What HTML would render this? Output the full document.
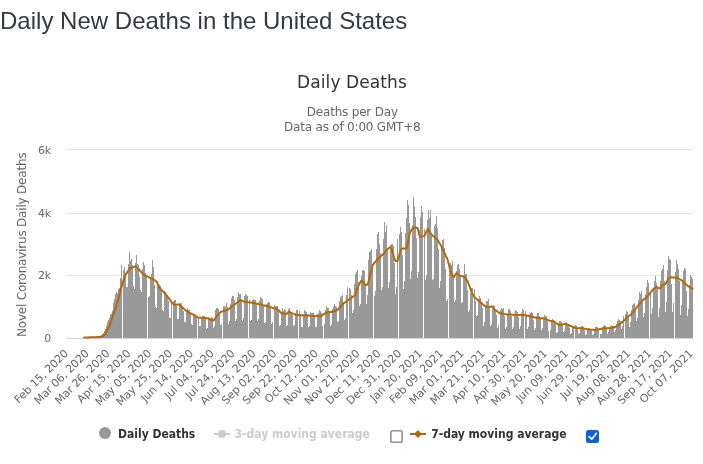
<!DOCTYPE html>
<html lang="en">
<head>
<meta charset="utf-8">
<title>Daily New Deaths in the United States</title>
<style>
html,body{margin:0;padding:0;background:#fff;}
body{width:703px;height:464px;overflow:hidden;position:relative;font-family:"Liberation Sans",Arial,sans-serif;}
h3{position:absolute;left:0;top:6px;margin:0;font-family:"Liberation Sans",Arial,sans-serif;font-weight:normal;font-size:24px;line-height:30px;color:#363945;white-space:nowrap;letter-spacing:0.01px;}
#chart{position:absolute;left:0;top:0;width:703px;height:464px;}
svg text{font-family:"DejaVu Sans","Liberation Sans",sans-serif;}
.cb{position:absolute;width:13px;height:13px;margin:0;padding:0;box-sizing:border-box;-webkit-appearance:none;appearance:none;border-radius:2.5px;}
#cb3{left:390px;top:430px;border:0;background:transparent;opacity:0;}
#cb7{left:586px;top:430px;border:0;background:#0c61e1;}
#ck{position:absolute;left:586px;top:430px;width:13px;height:13px;pointer-events:none;}
</style>
</head>
<body>
<h3>Daily New Deaths in the United States</h3>
<div id="chart">
<svg width="703" height="464" viewBox="0 0 703 464">
<rect x="0" y="50" width="703" height="414" fill="#ffffff"/>
<g stroke="#e6e6e6" stroke-width="1" shape-rendering="crispEdges">
<path d="M66 149.5H693M66 213.5H693M66 275.5H693"/>
</g>
<path fill="#999999" shape-rendering="crispEdges" d="M81 338V337.5h1V338zM82 338V337.5h1V338zM83 338V337.4h1V338zM84 338V337.3h1V338zM85 338V337.3h1V338zM86 338V337.3h1V338zM87 338V337.2h1V338zM88 338V337.4h1V338zM89 338V337.4h1V338zM90 338V337.4h1V338zM91 338V337.3h1V338zM92 338V337.2h1V338zM93 338V337.2h1V338zM94 338V337.0h1V338zM95 338V337.2h1V338zM96 338V337.1h1V338zM98 338V336.9h1V338zM99 338V336.5h1V338zM100 338V336.1h1V338zM101 338V335.4h1V338zM102 338V334.3h1V338zM103 338V332.7h1V338zM104 338V331.1h1V338zM105 338V328.9h1V338zM106 338V326.0h1V338zM107 338V322.4h1V338zM108 338V319.9h1V338zM109 338V317.5h1V338zM110 338V314.4h1V338zM111 338V313.5h1V338zM112 338V310.7h1V338zM113 338V303.2h1V338zM114 338V299.1h1V338zM115 338V294.4h1V338zM116 338V291.8h1V338zM117 338V293.1h1V338zM118 338V289.1h1V338zM119 338V288.2h1V338zM120 338V277.9h1V338zM121 338V264.8h1V338zM123 338V270.2h1V338zM124 338V266.9h1V338zM125 338V274.2h1V338zM126 338V286.9h1V338zM127 338V286.6h1V338zM128 338V264.2h1V338zM129 338V252.4h1V338zM130 338V261.1h1V338zM131 338V258.6h1V338zM132 338V265.0h1V338zM133 338V285.8h1V338zM134 338V288.6h1V338zM135 338V263.2h1V338zM136 338V254.9h1V338zM137 338V264.1h1V338zM138 338V265.1h1V338zM139 338V276.5h1V338zM140 338V290.4h1V338zM141 338V292.4h1V338zM142 338V269.1h1V338zM143 338V261.5h1V338zM144 338V264.5h1V338zM145 338V272.7h1V338zM146 338V275.8h1V338zM148 338V296.8h1V338zM149 338V295.9h1V338zM150 338V279.2h1V338zM151 338V273.7h1V338zM152 338V259.9h1V338zM153 338V266.5h1V338zM154 338V284.6h1V338zM155 338V306.7h1V338zM156 338V307.6h1V338zM157 338V280.6h1V338zM158 338V285.2h1V338zM159 338V284.8h1V338zM160 338V286.3h1V338zM161 338V291.1h1V338zM162 338V310.1h1V338zM163 338V310.8h1V338zM164 338V293.3h1V338zM165 338V292.4h1V338zM166 338V295.2h1V338zM167 338V294.9h1V338zM168 338V300.9h1V338zM169 338V317.9h1V338zM170 338V318.3h1V338zM171 338V302.6h1V338zM173 338V301.3h1V338zM174 338V300.3h1V338zM175 338V300.1h1V338zM176 338V305.8h1V338zM177 338V319.4h1V338zM178 338V318.9h1V338zM179 338V304.3h1V338zM180 338V303.3h1V338zM181 338V303.4h1V338zM182 338V306.1h1V338zM183 338V311.0h1V338zM184 338V321.6h1V338zM185 338V321.9h1V338zM186 338V311.4h1V338zM187 338V308.2h1V338zM188 338V309.8h1V338zM189 338V310.4h1V338zM190 338V314.0h1V338zM191 338V324.4h1V338zM192 338V324.9h1V338zM193 338V315.6h1V338zM194 338V314.1h1V338zM195 338V316.4h1V338zM196 338V316.8h1V338zM198 338V318.7h1V338zM199 338V326.3h1V338zM200 338V326.1h1V338zM201 338V317.0h1V338zM202 338V315.7h1V338zM203 338V315.8h1V338zM204 338V316.4h1V338zM205 338V318.1h1V338zM206 338V329.4h1V338zM207 338V327.8h1V338zM208 338V317.4h1V338zM209 338V317.8h1V338zM210 338V318.4h1V338zM211 338V317.0h1V338zM212 338V317.5h1V338zM213 338V328.1h1V338zM214 338V325.5h1V338zM215 338V309.6h1V338zM216 338V308.4h1V338zM217 338V307.6h1V338zM218 338V309.1h1V338zM219 338V311.6h1V338zM220 338V325.1h1V338zM221 338V324.0h1V338zM223 338V305.8h1V338zM224 338V306.1h1V338zM225 338V306.8h1V338zM226 338V302.6h1V338zM227 338V306.7h1V338zM228 338V323.7h1V338zM229 338V321.2h1V338zM230 338V303.7h1V338zM231 338V298.3h1V338zM232 338V295.9h1V338zM233 338V296.2h1V338zM234 338V300.1h1V338zM235 338V320.8h1V338zM236 338V318.7h1V338zM237 338V297.3h1V338zM238 338V291.6h1V338zM239 338V294.2h1V338zM240 338V294.3h1V338zM241 338V301.1h1V338zM242 338V321.0h1V338zM243 338V318.3h1V338zM244 338V295.5h1V338zM245 338V293.7h1V338zM246 338V294.8h1V338zM247 338V295.7h1V338zM249 338V300.2h1V338zM250 338V321.4h1V338zM251 338V319.5h1V338zM252 338V299.7h1V338zM253 338V299.2h1V338zM254 338V300.2h1V338zM255 338V299.9h1V338zM256 338V303.9h1V338zM257 338V321.2h1V338zM258 338V319.4h1V338zM259 338V301.2h1V338zM260 338V296.9h1V338zM261 338V297.6h1V338zM262 338V298.8h1V338zM263 338V305.3h1V338zM264 338V323.1h1V338zM265 338V322.0h1V338zM266 338V304.3h1V338zM267 338V302.6h1V338zM268 338V301.7h1V338zM269 338V301.5h1V338zM270 338V305.6h1V338zM271 338V323.7h1V338zM272 338V322.3h1V338zM274 338V304.5h1V338zM275 338V306.1h1V338zM276 338V305.5h1V338zM277 338V306.4h1V338zM278 338V311.0h1V338zM279 338V325.7h1V338zM280 338V325.3h1V338zM281 338V312.0h1V338zM282 338V308.4h1V338zM283 338V310.6h1V338zM284 338V308.5h1V338zM285 338V309.5h1V338zM286 338V325.6h1V338zM287 338V324.8h1V338zM288 338V308.5h1V338zM289 338V308.0h1V338zM290 338V310.9h1V338zM291 338V312.1h1V338zM292 338V314.9h1V338zM293 338V326.2h1V338zM294 338V325.4h1V338zM295 338V313.4h1V338zM296 338V309.6h1V338zM297 338V309.7h1V338zM299 338V311.3h1V338zM300 338V314.9h1V338zM301 338V327.0h1V338zM302 338V326.7h1V338zM303 338V314.3h1V338zM304 338V309.7h1V338zM305 338V311.2h1V338zM306 338V312.1h1V338zM307 338V313.5h1V338zM308 338V327.3h1V338zM309 338V325.8h1V338zM310 338V312.1h1V338zM311 338V312.6h1V338zM312 338V313.0h1V338zM313 338V313.4h1V338zM314 338V316.0h1V338zM315 338V327.4h1V338zM316 338V327.0h1V338zM317 338V313.9h1V338zM318 338V312.5h1V338zM319 338V309.6h1V338zM320 338V311.1h1V338zM321 338V312.6h1V338zM322 338V325.6h1V338zM324 338V324.0h1V338zM325 338V309.6h1V338zM326 338V305.8h1V338zM327 338V307.7h1V338zM328 338V307.9h1V338zM329 338V310.7h1V338zM330 338V326.0h1V338zM331 338V324.0h1V338zM332 338V308.7h1V338zM333 338V307.1h1V338zM334 338V303.9h1V338zM335 338V306.1h1V338zM336 338V306.8h1V338zM337 338V322.3h1V338zM338 338V320.6h1V338zM339 338V301.1h1V338zM340 338V296.9h1V338zM341 338V296.4h1V338zM342 338V295.0h1V338zM343 338V301.5h1V338zM344 338V319.5h1V338zM345 338V318.3h1V338zM346 338V295.4h1V338zM347 338V286.9h1V338zM349 338V288.1h1V338zM350 338V288.5h1V338zM351 338V295.1h1V338zM352 338V312.8h1V338zM353 338V309.8h1V338zM354 338V284.3h1V338zM355 338V274.2h1V338zM356 338V271.7h1V338zM357 338V270.4h1V338zM358 338V281.7h1V338zM359 338V305.8h1V338zM360 338V303.6h1V338zM361 338V276.1h1V338zM362 338V270.4h1V338zM363 338V269.6h1V338zM364 338V271.3h1V338zM365 338V283.7h1V338zM366 338V303.6h1V338zM367 338V295.2h1V338zM368 338V259.5h1V338zM369 338V251.9h1V338zM370 338V250.8h1V338zM371 338V248.7h1V338zM372 338V265.9h1V338zM374 338V295.5h1V338zM375 338V291.3h1V338zM376 338V248.8h1V338zM377 338V234.1h1V338zM378 338V232.4h1V338zM379 338V243.7h1V338zM380 338V253.0h1V338zM381 338V289.5h1V338zM382 338V286.9h1V338zM383 338V238.5h1V338zM384 338V222.0h1V338zM385 338V231.7h1V338zM386 338V224.8h1V338zM387 338V249.1h1V338zM388 338V288.2h1V338zM389 338V281.8h1V338zM390 338V245.0h1V338zM391 338V244.1h1V338zM392 338V244.4h1V338zM393 338V246.2h1V338zM394 338V263.0h1V338zM395 338V294.3h1V338zM396 338V286.5h1V338zM397 338V239.1h1V338zM399 338V234.1h1V338zM400 338V226.9h1V338zM401 338V232.2h1V338zM402 338V254.6h1V338zM403 338V288.9h1V338zM404 338V280.7h1V338zM405 338V232.6h1V338zM406 338V217.9h1V338zM407 338V200.0h1V338zM408 338V205.3h1V338zM409 338V223.3h1V338zM410 338V279.0h1V338zM411 338V271.4h1V338zM412 338V224.7h1V338zM413 338V196.9h1V338zM414 338V206.4h1V338zM415 338V217.3h1V338zM416 338V238.3h1V338zM417 338V278.1h1V338zM418 338V272.4h1V338zM419 338V230.3h1V338zM420 338V217.0h1V338zM421 338V205.7h1V338zM422 338V212.2h1V338zM424 338V229.2h1V338zM425 338V279.9h1V338zM426 338V274.9h1V338zM427 338V220.2h1V338zM428 338V210.1h1V338zM429 338V218.2h1V338zM430 338V210.3h1V338zM431 338V236.3h1V338zM432 338V279.6h1V338zM433 338V279.4h1V338zM434 338V226.1h1V338zM435 338V224.3h1V338zM436 338V216.0h1V338zM437 338V227.8h1V338zM438 338V249.3h1V338zM439 338V287.5h1V338zM440 338V281.1h1V338zM441 338V248.3h1V338zM442 338V240.4h1V338zM443 338V239.0h1V338zM444 338V248.4h1V338zM445 338V268.6h1V338zM446 338V300.6h1V338zM447 338V299.4h1V338zM449 338V271.0h1V338zM450 338V263.3h1V338zM451 338V264.8h1V338zM452 338V261.1h1V338zM453 338V275.9h1V338zM454 338V301.6h1V338zM455 338V299.8h1V338zM456 338V270.5h1V338zM457 338V265.4h1V338zM458 338V264.2h1V338zM459 338V268.9h1V338zM460 338V275.3h1V338zM461 338V303.3h1V338zM462 338V302.2h1V338zM463 338V274.6h1V338zM464 338V264.0h1V338zM465 338V274.4h1V338zM466 338V274.3h1V338zM467 338V290.2h1V338zM468 338V312.4h1V338zM469 338V309.7h1V338zM470 338V292.7h1V338zM471 338V287.9h1V338zM472 338V288.3h1V338zM474 338V289.2h1V338zM475 338V301.2h1V338zM476 338V316.4h1V338zM477 338V315.0h1V338zM478 338V298.9h1V338zM479 338V295.9h1V338zM480 338V297.7h1V338zM481 338V301.5h1V338zM482 338V308.0h1V338zM483 338V325.9h1V338zM484 338V321.7h1V338zM485 338V305.3h1V338zM486 338V301.1h1V338zM487 338V301.1h1V338zM488 338V298.7h1V338zM489 338V306.9h1V338zM490 338V325.7h1V338zM491 338V323.9h1V338zM492 338V308.7h1V338zM493 338V305.4h1V338zM494 338V305.6h1V338zM495 338V308.9h1V338zM496 338V314.5h1V338zM497 338V328.4h1V338zM498 338V325.0h1V338zM500 338V310.1h1V338zM501 338V308.0h1V338zM502 338V309.3h1V338zM503 338V308.1h1V338zM504 338V315.9h1V338zM505 338V328.7h1V338zM506 338V326.9h1V338zM507 338V312.8h1V338zM508 338V309.1h1V338zM509 338V309.0h1V338zM510 338V311.3h1V338zM511 338V315.7h1V338zM512 338V329.3h1V338zM513 338V326.7h1V338zM514 338V314.2h1V338zM515 338V309.8h1V338zM516 338V311.1h1V338zM517 338V312.3h1V338zM518 338V316.6h1V338zM519 338V329.1h1V338zM520 338V326.4h1V338zM521 338V313.1h1V338zM522 338V309.0h1V338zM523 338V309.6h1V338zM525 338V310.8h1V338zM526 338V316.0h1V338zM527 338V329.4h1V338zM528 338V327.4h1V338zM529 338V313.5h1V338zM530 338V313.1h1V338zM531 338V311.5h1V338zM532 338V313.2h1V338zM533 338V319.7h1V338zM534 338V329.6h1V338zM535 338V327.5h1V338zM536 338V316.0h1V338zM537 338V312.7h1V338zM538 338V312.5h1V338zM539 338V315.5h1V338zM540 338V319.0h1V338zM541 338V330.3h1V338zM542 338V328.1h1V338zM543 338V317.1h1V338zM544 338V314.6h1V338zM545 338V315.8h1V338zM546 338V316.4h1V338zM547 338V321.2h1V338zM548 338V331.1h1V338zM550 338V329.9h1V338zM551 338V321.1h1V338zM552 338V319.3h1V338zM553 338V319.6h1V338zM554 338V321.7h1V338zM555 338V324.4h1V338zM556 338V332.9h1V338zM557 338V331.5h1V338zM558 338V323.4h1V338zM559 338V320.9h1V338zM560 338V320.9h1V338zM561 338V322.3h1V338zM562 338V323.8h1V338zM563 338V332.3h1V338zM564 338V331.3h1V338zM565 338V323.8h1V338zM566 338V322.1h1V338zM567 338V323.7h1V338zM568 338V323.7h1V338zM569 338V327.6h1V338zM570 338V334.1h1V338zM571 338V333.1h1V338zM572 338V326.9h1V338zM573 338V326.3h1V338zM575 338V325.4h1V338zM576 338V325.6h1V338zM577 338V328.6h1V338zM578 338V334.2h1V338zM579 338V333.2h1V338zM580 338V327.2h1V338zM581 338V325.9h1V338zM582 338V326.4h1V338zM583 338V327.1h1V338zM584 338V330.1h1V338zM585 338V334.9h1V338zM586 338V334.1h1V338zM587 338V328.7h1V338zM588 338V328.0h1V338zM589 338V327.6h1V338zM590 338V328.8h1V338zM591 338V330.6h1V338zM592 338V335.0h1V338zM593 338V333.9h1V338zM594 338V328.5h1V338zM595 338V326.9h1V338zM596 338V327.2h1V338zM597 338V327.1h1V338zM598 338V329.1h1V338zM600 338V334.4h1V338zM601 338V333.5h1V338zM602 338V326.9h1V338zM603 338V326.3h1V338zM604 338V325.1h1V338zM605 338V325.7h1V338zM606 338V329.3h1V338zM607 338V334.3h1V338zM608 338V331.9h1V338zM609 338V326.9h1V338zM610 338V325.7h1V338zM611 338V325.4h1V338zM612 338V325.6h1V338zM613 338V326.1h1V338zM614 338V332.3h1V338zM615 338V330.1h1V338zM616 338V324.4h1V338zM617 338V320.9h1V338zM618 338V318.8h1V338zM619 338V320.2h1V338zM620 338V320.8h1V338zM621 338V329.2h1V338zM622 338V325.7h1V338zM623 338V316.4h1V338zM625 338V314.0h1V338zM626 338V310.5h1V338zM627 338V311.8h1V338zM628 338V316.6h1V338zM629 338V326.7h1V338zM630 338V322.1h1V338zM631 338V309.9h1V338zM632 338V305.2h1V338zM633 338V303.9h1V338zM634 338V302.8h1V338zM635 338V307.5h1V338zM636 338V320.8h1V338zM637 338V318.0h1V338zM638 338V299.5h1V338zM639 338V292.2h1V338zM640 338V294.4h1V338zM641 338V290.7h1V338zM642 338V298.8h1V338zM643 338V317.2h1V338zM644 338V313.1h1V338zM645 338V294.2h1V338zM646 338V286.5h1V338zM647 338V280.0h1V338zM648 338V283.1h1V338zM650 338V292.3h1V338zM651 338V314.1h1V338zM652 338V308.4h1V338zM653 338V288.6h1V338zM654 338V281.4h1V338zM655 338V275.8h1V338zM656 338V282.6h1V338zM657 338V287.5h1V338zM658 338V317.1h1V338zM659 338V307.8h1V338zM660 338V280.8h1V338zM661 338V271.4h1V338zM662 338V269.0h1V338zM663 338V265.2h1V338zM664 338V281.2h1V338zM665 338V311.9h1V338zM666 338V301.9h1V338zM667 338V270.1h1V338zM668 338V255.5h1V338zM669 338V258.8h1V338zM670 338V259.8h1V338zM671 338V284.4h1V338zM672 338V311.9h1V338zM673 338V302.7h1V338zM675 338V272.0h1V338zM676 338V260.3h1V338zM677 338V263.8h1V338zM678 338V269.0h1V338zM679 338V281.3h1V338zM680 338V315.3h1V338zM681 338V305.4h1V338zM682 338V280.8h1V338zM683 338V270.8h1V338zM684 338V267.9h1V338zM685 338V269.1h1V338zM686 338V291.4h1V338zM687 338V316.4h1V338zM688 338V309.3h1V338zM689 338V285.0h1V338zM690 338V275.4h1V338zM691 338V276.6h1V338zM692 338V278.6h1V338z"/>
<path d="M66 338.5H693" stroke="#ccd6eb" stroke-width="1" shape-rendering="crispEdges"/>
<path fill="none" stroke="#b46a05" stroke-width="2" stroke-linejoin="round" stroke-linecap="round" d="M84.2 337.4L85.3 337.4L86.3 337.4L87.4 337.4L88.4 337.4L89.4 337.3L90.5 337.3L91.5 337.3L92.6 337.3L93.6 337.3L94.6 337.3L95.7 337.3L96.7 337.2L97.8 337.1L98.8 337.1L99.8 337.0L100.9 336.8L101.9 336.6L103.0 336.2L104.0 335.3L105.1 334.1L106.1 332.3L107.1 330.3L108.2 328.2L109.2 326.2L110.3 323.6L111.3 320.5L112.3 317.4L113.4 314.2L114.4 311.1L115.5 308.0L116.5 304.9L117.6 301.7L118.6 298.0L119.6 294.0L120.7 290.0L121.7 286.1L122.8 282.4L123.8 279.6L124.8 276.8L125.9 274.2L126.9 272.6L128.0 271.1L129.0 269.5L130.1 268.0L131.1 267.7L132.1 267.4L133.2 267.1L134.2 266.8L135.3 266.5L136.3 267.2L137.3 268.1L138.4 268.9L139.4 270.0L140.5 271.2L141.5 272.4L142.6 273.6L143.6 274.4L144.6 275.0L145.7 275.5L146.7 276.1L147.8 276.7L148.8 277.2L149.8 277.6L150.9 278.1L151.9 278.5L153.0 279.1L154.0 279.8L155.1 280.6L156.1 281.4L157.1 282.6L158.2 285.1L159.2 287.5L160.3 288.6L161.3 289.6L162.3 290.6L163.4 291.7L164.4 292.7L165.5 294.0L166.5 295.3L167.5 296.6L168.6 297.9L169.6 299.4L170.7 301.0L171.7 302.5L172.8 303.5L173.8 304.2L174.8 305.0L175.9 305.0L176.9 304.6L178.0 304.2L179.0 304.4L180.0 305.4L181.1 306.3L182.1 307.2L183.2 308.1L184.2 309.0L185.3 309.9L186.3 310.8L187.3 311.4L188.4 312.1L189.4 312.7L190.5 313.3L191.5 313.9L192.5 314.3L193.6 314.7L194.6 315.3L195.7 316.1L196.7 316.8L197.8 317.6L198.8 317.8L199.8 317.8L200.9 317.8L201.9 317.8L203.0 317.9L204.0 318.0L205.0 318.1L206.1 318.2L207.1 318.3L208.2 318.5L209.2 319.0L210.3 319.4L211.3 319.9L212.3 320.3L213.4 320.7L214.4 319.5L215.5 317.9L216.5 316.4L217.5 315.2L218.6 314.1L219.6 313.1L220.7 312.0L221.7 311.6L222.8 311.3L223.8 311.0L224.8 310.7L225.9 310.4L226.9 310.1L228.0 309.7L229.0 308.8L230.0 308.0L231.1 307.2L232.1 306.3L233.2 305.5L234.2 304.8L235.2 304.0L236.3 303.2L237.3 302.5L238.4 301.7L239.4 300.9L240.5 300.2L241.5 300.2L242.5 300.8L243.6 301.3L244.6 301.8L245.7 302.0L246.7 302.1L247.7 302.2L248.8 302.3L249.8 302.5L250.9 302.6L251.9 302.7L253.0 302.8L254.0 303.0L255.0 303.2L256.1 303.5L257.1 303.7L258.2 303.9L259.2 304.2L260.2 304.4L261.3 304.7L262.3 305.0L263.4 305.2L264.4 305.5L265.5 305.7L266.5 306.0L267.5 306.3L268.6 306.5L269.6 306.8L270.7 307.1L271.7 307.5L272.7 307.8L273.8 308.1L274.8 308.5L275.9 308.8L276.9 309.2L278.0 309.8L279.0 310.8L280.0 311.8L281.1 312.9L282.1 313.5L283.2 313.6L284.2 313.8L285.2 314.0L286.3 314.1L287.3 313.3L288.4 312.1L289.4 312.1L290.4 312.6L291.5 313.0L292.5 313.5L293.6 313.9L294.6 314.4L295.7 314.8L296.7 314.9L297.7 315.0L298.8 315.0L299.8 315.1L300.9 315.2L301.9 315.3L302.9 315.4L304.0 315.4L305.0 315.5L306.1 315.5L307.1 315.5L308.2 315.6L309.2 315.6L310.2 315.7L311.3 315.7L312.3 315.8L313.4 315.8L314.4 315.9L315.4 316.0L316.5 316.1L317.5 316.1L318.6 316.2L319.6 316.3L320.7 316.3L321.7 315.6L322.7 314.9L323.8 314.2L324.8 313.5L325.9 312.8L326.9 312.6L327.9 312.4L329.0 312.3L330.0 312.1L331.1 312.0L332.1 311.8L333.2 311.6L334.2 311.2L335.2 310.8L336.3 310.3L337.3 309.9L338.4 309.1L339.4 307.9L340.4 306.6L341.5 305.3L342.5 304.3L343.6 303.5L344.6 302.7L345.7 301.9L346.7 301.1L347.7 300.3L348.8 299.6L349.8 298.9L350.9 298.2L351.9 297.5L352.9 296.7L354.0 296.0L355.0 295.1L356.1 292.2L357.1 289.4L358.1 286.6L359.2 284.2L360.2 282.5L361.3 280.8L362.3 280.7L363.4 282.4L364.4 284.1L365.4 284.8L366.5 284.8L367.5 284.8L368.6 281.5L369.6 277.0L370.6 272.6L371.7 268.9L372.7 265.3L373.8 263.7L374.8 262.4L375.9 261.2L376.9 259.9L377.9 258.7L379.0 257.8L380.0 256.9L381.1 256.1L382.1 255.2L383.1 254.3L384.2 253.3L385.2 252.0L386.3 250.7L387.3 249.4L388.4 248.4L389.4 247.7L390.4 247.0L391.5 249.1L392.5 252.7L393.6 255.9L394.6 259.0L395.6 261.2L396.7 261.0L397.7 260.7L398.8 257.1L399.8 253.3L400.9 249.7L401.9 248.9L402.9 248.2L404.0 248.4L405.0 248.5L406.1 248.7L407.1 247.1L408.1 241.4L409.2 235.6L410.2 231.9L411.3 230.2L412.3 228.5L413.3 227.8L414.4 227.8L415.4 227.8L416.5 227.8L417.5 227.8L418.6 231.7L419.6 236.3L420.6 236.6L421.7 236.4L422.7 236.2L423.8 236.0L424.8 235.6L425.8 233.1L426.9 230.7L427.9 229.1L429.0 230.7L430.0 232.3L431.1 233.8L432.1 235.1L433.1 236.0L434.2 236.9L435.2 237.8L436.3 238.7L437.3 239.5L438.3 241.1L439.4 242.9L440.4 244.8L441.5 246.6L442.5 248.8L443.6 251.0L444.6 253.2L445.6 255.5L446.7 257.7L447.7 260.2L448.8 264.3L449.8 268.5L450.8 272.2L451.9 274.2L452.9 276.3L454.0 277.0L455.0 275.3L456.1 273.6L457.1 273.1L458.1 274.0L459.2 274.9L460.2 275.8L461.3 276.1L462.3 276.3L463.3 276.4L464.4 276.6L465.4 278.0L466.5 279.7L467.5 281.3L468.6 283.7L469.6 286.5L470.6 289.3L471.7 292.2L472.7 294.2L473.8 295.9L474.8 297.6L475.8 298.5L476.9 299.3L477.9 300.1L479.0 300.9L480.0 301.8L481.0 302.7L482.1 303.7L483.1 304.6L484.2 305.5L485.2 306.3L486.3 306.5L487.3 306.8L488.3 307.1L489.4 307.0L490.4 306.7L491.5 306.3L492.5 307.0L493.5 308.2L494.6 309.5L495.6 310.3L496.7 311.0L497.7 311.8L498.8 312.5L499.8 313.3L500.8 313.5L501.9 313.6L502.9 313.8L504.0 314.0L505.0 314.2L506.0 314.3L507.1 314.4L508.1 314.4L509.2 314.5L510.2 314.6L511.3 314.6L512.3 314.7L513.3 314.8L514.4 314.8L515.4 314.9L516.5 314.9L517.5 315.0L518.5 315.0L519.6 315.1L520.6 315.1L521.7 315.1L522.7 315.2L523.8 315.2L524.8 315.3L525.8 315.3L526.9 315.6L527.9 315.8L529.0 316.1L530.0 316.3L531.0 316.5L532.1 316.8L533.1 317.0L534.2 317.3L535.2 317.5L536.2 317.8L537.3 318.0L538.3 318.1L539.4 318.2L540.4 318.2L541.5 318.2L542.5 318.3L543.5 318.3L544.6 318.7L545.6 319.1L546.7 319.5L547.7 319.9L548.7 320.4L549.8 320.7L550.8 320.9L551.9 321.0L552.9 321.2L554.0 321.5L555.0 322.2L556.0 323.0L557.1 323.7L558.1 324.4L559.2 325.1L560.2 325.1L561.2 324.8L562.3 324.6L563.3 324.3L564.4 324.0L565.4 323.7L566.5 324.1L567.5 324.6L568.5 325.0L569.6 325.5L570.6 325.9L571.7 326.4L572.7 326.8L573.7 327.3L574.8 327.7L575.8 328.1L576.9 328.3L577.9 328.2L579.0 328.2L580.0 328.2L581.0 328.1L582.1 328.1L583.1 328.4L584.2 328.6L585.2 328.9L586.2 329.1L587.3 329.3L588.3 329.6L589.4 329.7L590.4 329.7L591.5 329.8L592.5 329.8L593.5 329.8L594.6 329.9L595.6 329.9L596.7 329.7L597.7 329.5L598.7 329.3L599.8 329.1L600.8 328.9L601.9 328.7L602.9 328.5L603.9 328.3L605.0 328.3L606.0 328.3L607.1 328.3L608.1 328.3L609.2 328.3L610.2 328.3L611.2 328.2L612.3 327.8L613.3 327.5L614.4 327.2L615.4 326.8L616.4 326.3L617.5 325.6L618.5 324.9L619.6 324.2L620.6 323.5L621.7 322.8L622.7 321.8L623.7 320.7L624.8 319.7L625.8 318.6L626.9 317.6L627.9 316.8L628.9 316.0L630.0 315.2L631.0 314.3L632.1 313.1L633.1 311.8L634.2 310.6L635.2 309.3L636.2 308.0L637.3 306.8L638.3 305.5L639.4 304.3L640.4 303.0L641.4 301.7L642.5 300.5L643.5 299.6L644.6 298.9L645.6 298.2L646.7 297.4L647.7 296.1L648.7 294.8L649.8 293.4L650.8 292.1L651.9 290.8L652.9 289.6L653.9 288.8L655.0 288.0L656.0 287.2L657.1 287.1L658.1 287.8L659.2 288.5L660.2 288.0L661.2 286.6L662.3 285.2L663.3 284.6L664.4 284.4L665.4 284.1L666.4 283.2L667.5 280.3L668.5 278.2L669.6 277.9L670.6 277.6L671.6 277.3L672.7 277.4L673.7 277.5L674.8 277.6L675.8 277.7L676.9 277.8L677.9 278.1L678.9 278.8L680.0 279.4L681.0 280.0L682.1 280.6L683.1 281.5L684.1 282.5L685.2 283.5L686.2 284.6L687.3 285.6L688.3 286.3L689.4 286.9L690.4 287.5L691.4 288.2L692.5 288.8"/>
<text x="352" y="87.5" text-anchor="middle" font-size="17px" fill="#333333" letter-spacing="0.1">Daily Deaths</text>
<g font-size="12px" fill="#666666" text-anchor="middle" letter-spacing="-0.2">
<text x="352.3" y="116">Deaths per Day</text>
<text x="352.3" y="131">Data as of 0:00 GMT+8</text>
</g>
<text transform="translate(26,244.8) rotate(-90)" text-anchor="middle" font-size="12px" fill="#666666" letter-spacing="-0.2">Novel Coronavirus Daily Deaths</text>
<g font-size="11px" fill="#666666" text-anchor="end" letter-spacing="-0.2">
<text x="51" y="153.5">6k</text>
<text x="51" y="216.5">4k</text>
<text x="51" y="278.5">2k</text>
<text x="51" y="342">0</text>
</g>
<g font-size="11px" fill="#666666" letter-spacing="-0.1">
<text transform="translate(68.8,354.0) rotate(-45)" text-anchor="end">Feb 15, 2020</text>
<text transform="translate(89.7,354.0) rotate(-45)" text-anchor="end">Mar 06, 2020</text>
<text transform="translate(110.5,354.0) rotate(-45)" text-anchor="end">Mar 26, 2020</text>
<text transform="translate(131.3,354.0) rotate(-45)" text-anchor="end">Apr 15, 2020</text>
<text transform="translate(152.1,354.0) rotate(-45)" text-anchor="end">May 05, 2020</text>
<text transform="translate(173.0,354.0) rotate(-45)" text-anchor="end">May 25, 2020</text>
<text transform="translate(193.8,354.0) rotate(-45)" text-anchor="end">Jun 14, 2020</text>
<text transform="translate(214.6,354.0) rotate(-45)" text-anchor="end">Jul 04, 2020</text>
<text transform="translate(235.5,354.0) rotate(-45)" text-anchor="end">Jul 24, 2020</text>
<text transform="translate(256.3,354.0) rotate(-45)" text-anchor="end">Aug 13, 2020</text>
<text transform="translate(277.1,354.0) rotate(-45)" text-anchor="end">Sep 02, 2020</text>
<text transform="translate(298.0,354.0) rotate(-45)" text-anchor="end">Sep 22, 2020</text>
<text transform="translate(318.8,354.0) rotate(-45)" text-anchor="end">Oct 12, 2020</text>
<text transform="translate(339.6,354.0) rotate(-45)" text-anchor="end">Nov 01, 2020</text>
<text transform="translate(360.4,354.0) rotate(-45)" text-anchor="end">Nov 21, 2020</text>
<text transform="translate(381.3,354.0) rotate(-45)" text-anchor="end">Dec 11, 2020</text>
<text transform="translate(402.1,354.0) rotate(-45)" text-anchor="end">Dec 31, 2020</text>
<text transform="translate(422.9,354.0) rotate(-45)" text-anchor="end">Jan 20, 2021</text>
<text transform="translate(443.8,354.0) rotate(-45)" text-anchor="end">Feb 09, 2021</text>
<text transform="translate(464.6,354.0) rotate(-45)" text-anchor="end">Mar 01, 2021</text>
<text transform="translate(485.4,354.0) rotate(-45)" text-anchor="end">Mar 21, 2021</text>
<text transform="translate(506.3,354.0) rotate(-45)" text-anchor="end">Apr 10, 2021</text>
<text transform="translate(527.1,354.0) rotate(-45)" text-anchor="end">Apr 30, 2021</text>
<text transform="translate(547.9,354.0) rotate(-45)" text-anchor="end">May 20, 2021</text>
<text transform="translate(568.8,354.0) rotate(-45)" text-anchor="end">Jun 09, 2021</text>
<text transform="translate(589.6,354.0) rotate(-45)" text-anchor="end">Jun 29, 2021</text>
<text transform="translate(610.4,354.0) rotate(-45)" text-anchor="end">Jul 19, 2021</text>
<text transform="translate(631.2,354.0) rotate(-45)" text-anchor="end">Aug 08, 2021</text>
<text transform="translate(652.1,354.0) rotate(-45)" text-anchor="end">Aug 28, 2021</text>
<text transform="translate(672.9,354.0) rotate(-45)" text-anchor="end">Sep 17, 2021</text>
<text transform="translate(693.7,354.0) rotate(-45)" text-anchor="end">Oct 07, 2021</text>
</g>
<g font-family="'DejaVu Sans Condensed','DejaVu Sans',sans-serif" font-weight="bold" font-size="12px">
<circle cx="105" cy="433" r="6" fill="#999999"/>
<text x="118" y="438" fill="#333333" style="font-family:'DejaVu Sans Condensed','DejaVu Sans',sans-serif">Daily Deaths</text>
<path d="M214 434H230" stroke="#cccccc" stroke-width="2"/>
<circle cx="222" cy="434" r="4" fill="#cccccc"/>
<text x="234.5" y="438" fill="#cccccc" style="font-family:'DejaVu Sans Condensed','DejaVu Sans',sans-serif">3-day moving average</text>
<rect x="390.8" y="430.8" width="11.4" height="11.4" rx="1.8" fill="#ffffff" stroke="#8f8f9d" stroke-width="1.6"/>
<path d="M410 434H426" stroke="#b46a05" stroke-width="2"/>
<path d="M418 430L422 434L418 438L414 434Z" fill="#b46a05"/>
<text x="431.2" y="438" fill="#333333" style="font-family:'DejaVu Sans Condensed','DejaVu Sans',sans-serif">7-day moving average</text>
</g>
</svg>
</div>
<input type="checkbox" class="cb" id="cb3" aria-label="3-day moving average">
<input type="checkbox" class="cb" id="cb7" checked aria-label="7-day moving average">
<svg id="ck" viewBox="0 0 13 13"><path d="M3.1 6.6L5.8 9.2L10.4 3.3" fill="none" stroke="#ffffff" stroke-width="1.6" stroke-linecap="round" stroke-linejoin="round"/></svg>
</body>
</html>
